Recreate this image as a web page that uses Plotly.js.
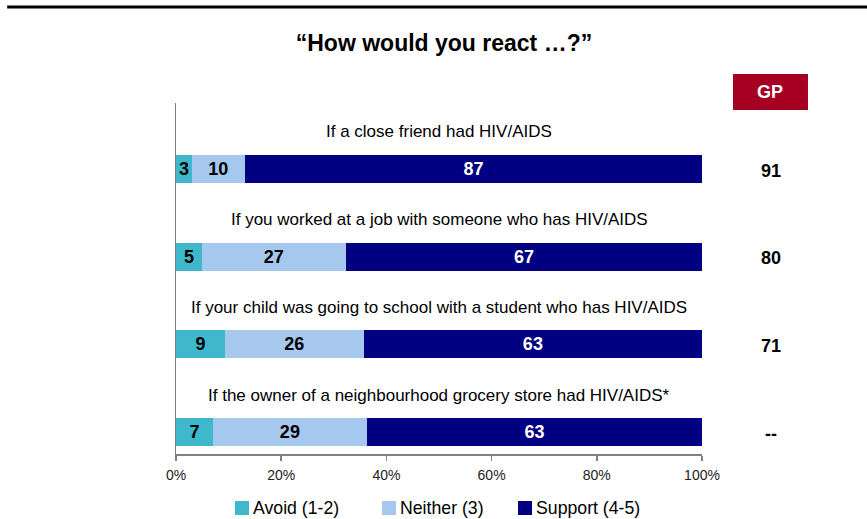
<!DOCTYPE html>
<html>
<head>
<meta charset="utf-8">
<script src="https://cdn.plot.ly/plotly-3.0.1.min.js"></script>
<style>html,body{margin:0;padding:0;background:#fff;}#chart{width:867px;height:519px;}</style>
</head>
<body>
<div id="chart"></div>
<script>
// ---- data ----
const questions = [
  "If a close friend had HIV/AIDS",
  "If you worked at a job with someone who has HIV/AIDS",
  "If your child was going to school with a student who has HIV/AIDS",
  "If the owner of a neighbourhood grocery store had HIV/AIDS*"
];
const avoidVals   = [3.0, 4.9, 9.3, 7.0];
const neitherVals = [10.1, 27.4, 26.4, 29.3];
const supportVals = [86.9, 67.7, 64.3, 63.7];
const avoidLabels   = ["3", "5", "9", "7"];
const neitherLabels = ["10", "27", "26", "29"];
const supportLabels = ["87", "67", "63", "63"];
const gpValues = ["91", "80", "71", "--"];
const seriesNames = ["Avoid (1-2)", "Neither (3)", "Support (4-5)"];
const tickVals = [0, 20, 40, 60, 80, 100];
const tickText = ["0%", "20%", "40%", "60%", "80%", "100%"];

// ---- drawing ----
const rows = questions.map((q, i) => i);
const SANS = "'Liberation Sans', Arial, sans-serif";
const colors = ["#3FB8CC", "#A6C8EE", "#000080"];
const textColors = ["#000000", "#000000", "#FFFFFF"];
const vals = [avoidVals, neitherVals, supportVals];
const labs = [avoidLabels, neitherLabels, supportLabels];

const traces = vals.map((v, k) => ({
  type: "bar",
  orientation: "h",
  name: seriesNames[k],
  x: v,
  y: rows,
  width: 0.32,
  marker: {color: colors[k], line: {width: 0}},
  text: labs[k],
  textposition: "inside",
  insidetextanchor: "middle",
  constraintext: "none",
  textfont: {family: SANS, size: 18, color: textColors[k], weight: "bold"},
  hoverinfo: "skip",
  showlegend: false
}));

const annotations = [];
const shapes = [
  {type: "line", xref: "paper", yref: "paper", x0: -0.321, x1: 1.32, y0: 1.2735, y1: 1.2735,
   line: {color: "#000", width: 3}},
  {type: "rect", xref: "paper", yref: "paper", x0: 1.0589, x1: 1.2015, y0: 0.980, y1: 1.0826,
   fillcolor: "#A50021", line: {width: 0}}
];
questions.forEach((q, i) => {
  annotations.push({
    xref: "x", yref: "y", x: 50, y: i - 0.42,
    text: q, showarrow: false, xanchor: "center", yanchor: "middle",
    font: {family: SANS, size: 17, color: "#000"}
  });
  annotations.push({
    xref: "paper", yref: "y", x: 1.1312, y: i + 0.02,
    text: "<b>" + gpValues[i] + "</b>", showarrow: false, xanchor: "center", yanchor: "middle",
    font: {family: SANS, size: 18, color: "#000"}
  });
});
annotations.push({
  xref: "paper", yref: "paper", x: 1.1302, y: 1.0313,
  text: "<b>GP</b>", showarrow: false, xanchor: "center", yanchor: "middle",
  font: {family: SANS, size: 18, color: "#fff"}
});

// legend (keys drawn as small squares with labels)
const legX = [0.11217, 0.39163, 0.65019];
const legW = 0.02662;
seriesNames.forEach((n, k) => {
  shapes.push({type: "rect", xref: "paper", yref: "paper",
    x0: legX[k], x1: legX[k] + legW, y0: -0.17379, y1: -0.13390,
    fillcolor: colors[k], line: {width: 0}});
  annotations.push({xref: "paper", yref: "paper", x: legX[k] + legW + 0.0035, y: -0.15385,
    text: n, showarrow: false, xanchor: "left", yanchor: "middle",
    font: {family: SANS, size: 17.7, color: "#000"}});
});

const layout = {
  width: 867, height: 519,
  margin: {l: 176, r: 165, t: 103, b: 65, autoexpand: false},
  paper_bgcolor: "#fff", plot_bgcolor: "#fff",
  barmode: "stack",
  bargap: 0,
  showlegend: false,
  title: {
    text: "<b>“How would you react …?”</b>",
    font: {family: SANS, size: 23, color: "#000"},
    xref: "paper", x: 0.5095, xanchor: "center",
    yref: "container", y: 0.917, yanchor: "middle"
  },
  xaxis: {
    range: [0, 100], tickvals: tickVals, ticktext: tickText,
    showgrid: false, zeroline: false,
    showline: true, linecolor: "#808080", linewidth: 1.5,
    ticks: "outside", ticklen: 5, tickcolor: "#808080", tickwidth: 1.5,
    ticklabelstandoff: 3,
    tickfont: {family: SANS, size: 14, color: "#222"},
    fixedrange: true
  },
  yaxis: {
    range: [3.25, -0.75], showticklabels: false, ticks: "",
    showgrid: false, zeroline: false,
    showline: true, linecolor: "#808080", linewidth: 1.5,
    fixedrange: true
  },
  shapes: shapes,
  annotations: annotations
};

Plotly.newPlot("chart", traces, layout, {displayModeBar: false, staticPlot: true});
</script>
</body>
</html>
